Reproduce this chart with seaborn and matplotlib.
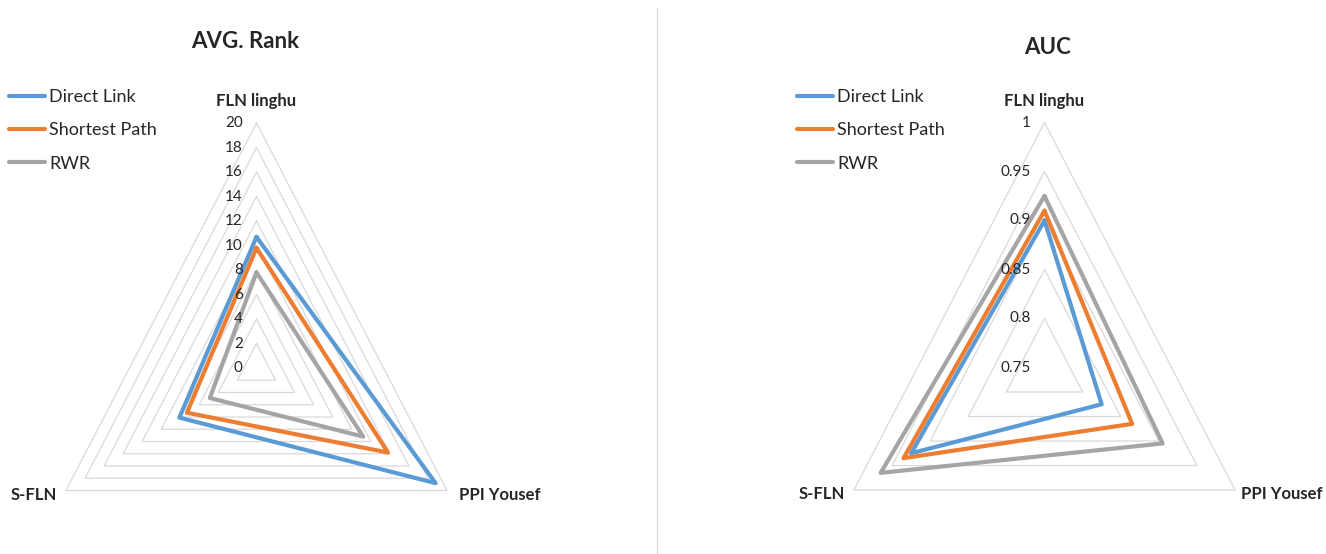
import numpy as np
import pandas as pd
import matplotlib
matplotlib.use("Agg")
import matplotlib.pyplot as plt
import seaborn as sns

# data
axes_names = ["FLN linghu", "PPI Yousef", "S-FLN"]
methods = ["Direct Link", "Shortest Path", "RWR"]

rank_direct = [10.7, 18.8, 8.1]
rank_shortest = [9.8, 13.8, 7.3]
rank_rwr = [7.8, 11.2, 4.9]
rank_ticks = [0, 2, 4, 6, 8, 10, 12, 14, 16, 18, 20]

auc_direct = [0.90, 0.825, 0.925]
auc_shortest = [0.91, 0.865, 0.935]
auc_rwr = [0.925, 0.905, 0.965]
auc_ticks = [0.75, 0.8, 0.85, 0.9, 0.95, 1]
auc_tick_labels = ["0.75", "0.8", "0.85", "0.9", "0.95", "1"]

colors = {"Direct Link": "#5B9BD5", "Shortest Path": "#ED7D31", "RWR": "#A5A5A5"}

sns.set_style("white")
plt.rcParams["font.family"] = ["Lato", "DejaVu Sans"]

W, H = 1326, 554
fig = plt.figure(figsize=(W / 100, H / 100), dpi=100)

# angle of each spoke: top, lower right, lower left
angles = np.deg2rad([90, -30, 210])


def to_xy(vals, vmin, vmax):
    r = (np.asarray(vals, dtype=float) - vmin) / (vmax - vmin)
    x = r * np.cos(angles)
    y = r * np.sin(angles)
    return np.append(x, x[0]), np.append(y, y[0])


def radar(cx, cy, title, title_xy, series, ticks, tick_labels, legend_x, ppi_x=0.92):
    # cx, cy: centre in pixels (from top-left); radius 245 px vertical, 220 px horizontal
    rx, ry = 220, 245
    xl, yl = (-1.1, 1.1), (-0.55, 1.05)
    left = cx + xl[0] * rx
    bottom = H - (cy - yl[0] * ry)
    ax = fig.add_axes([left / W, bottom / H, (xl[1] - xl[0]) * rx / W, (yl[1] - yl[0]) * ry / H])
    ax.set_xlim(*xl)
    ax.set_ylim(*yl)
    ax.axis("off")

    vmin, vmax = ticks[0], ticks[-1]
    for t in ticks[1:]:
        gx, gy = to_xy([t, t, t], vmin, vmax)
        ax.plot(gx, gy, color="#D9D9D9", lw=0.9, zorder=1)
    for t, lab in zip(ticks, tick_labels):
        r = (t - vmin) / (vmax - vmin)
        ax.text(-0.062, r, lab, ha="right", va="center", fontsize=11, color="#262626", zorder=4)

    for name, vals in series.items():
        px, py = to_xy(vals, vmin, vmax)
        df = pd.DataFrame({"x": px, "y": py})
        sns.lineplot(data=df, x="x", y="y", sort=False, estimator=None, ax=ax,
                     color=colors[name], linewidth=3, label=name, zorder=3)

    ax.text(0, 1.069, axes_names[0], ha="center", va="baseline", fontsize=12, fontweight="bold")
    ax.text(ppi_x, -0.518, axes_names[1], ha="left", va="center", fontsize=12, fontweight="bold")
    ax.text(-0.905, -0.518, axes_names[2], ha="right", va="center", fontsize=12, fontweight="bold")

    fig.text(title_xy[0] / W, 1 - title_xy[1] / H, title, ha="center", va="center",
             fontsize=16, fontweight="bold")

    leg = ax.legend(loc="upper left", bbox_to_anchor=(legend_x / W, 1 - 82 / H),
                    bbox_transform=fig.transFigure, frameon=False, fontsize=13,
                    handlelength=2.0, handletextpad=0.2, labelspacing=0.95, borderaxespad=0)
    for line in leg.get_lines():
        line.set_linewidth(3)
    return ax


radar(256.5, 368, "AVG. Rank", (245, 42),
      {"Direct Link": rank_direct, "Shortest Path": rank_shortest, "RWR": rank_rwr},
      rank_ticks, [str(t) for t in rank_ticks], 2)
radar(1044.5, 367.5, "AUC", (1048, 47),
      {"Direct Link": auc_direct, "Shortest Path": auc_shortest, "RWR": auc_rwr},
      auc_ticks, auc_tick_labels, 790, ppi_x=0.895)

# divider between the two panels
fig.add_artist(plt.Line2D([657 / W, 657 / W], [0, 1 - 8 / H], color="#D9D9D9", lw=1))

fig.savefig("out.png", dpi=100)
